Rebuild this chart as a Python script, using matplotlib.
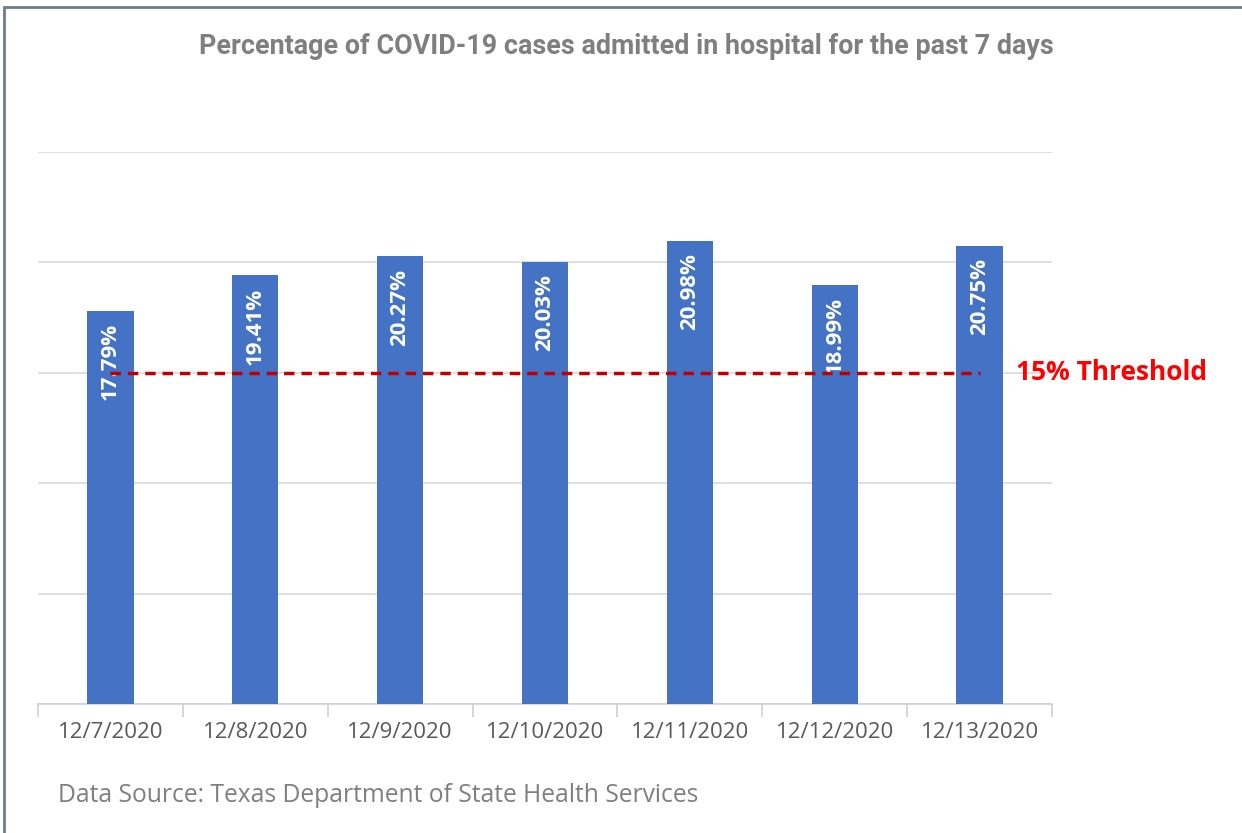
import matplotlib.pyplot as plt
from matplotlib.patches import Rectangle

dates = ["12/7/2020", "12/8/2020", "12/9/2020", "12/10/2020", "12/11/2020", "12/12/2020", "12/13/2020"]
values = [17.79, 19.41, 20.27, 20.03, 20.98, 18.99, 20.75]
threshold = 15
title = "Percentage of COVID-19 cases admitted in hospital for the past 7 days"
source = "Data Source: Texas Department of State Health Services"

W, H = 1242, 833
fig = plt.figure(figsize=(W / 100, H / 100), dpi=100)
fig.patch.set_facecolor("white")

# frame
fig.add_artist(Rectangle((4 / W, -0.01), 1.02, (H - 7) / H + 0.01, transform=fig.transFigure,
                         fill=False, edgecolor="#6f7b8c", linewidth=2))

ax = fig.add_axes([38 / W, (H - 704) / H, (1052 - 38) / W, (704 - 152) / H])
x = list(range(len(dates)))
ax.bar(x, values, width=0.32, color="#4472C4", zorder=3)
ax.set_xlim(-0.5, len(dates) - 0.5)
ax.set_ylim(0, 25)
ax.set_yticks([0, 5, 10, 15, 20, 25])
ax.yaxis.grid(True, color="#d9d9d9", linewidth=1.2, zorder=0)
ax.tick_params(axis="y", left=False, labelleft=False)
for s in ["top", "right", "left"]:
    ax.spines[s].set_visible(False)
ax.spines["bottom"].set_color("#d0d0d0")
ax.spines["bottom"].set_linewidth(1.2)
ax.set_xticks(x)
ax.set_xticklabels(dates, fontsize=16, color="#595959", family="Open Sans")
ax.tick_params(axis="x", length=0, pad=13)
ax.set_xticks([i - 0.5 for i in range(len(dates) + 1)], minor=True)
ax.tick_params(axis="x", which="minor", length=9, color="#d0d0d0", width=1.2)

for xi, v in zip(x, values):
    ax.text(xi, v - 0.55, f"{v:.2f}%", rotation=90, ha="center", va="top",
            color="white", fontsize=16, fontweight="bold", family="Open Sans", zorder=4)

ax.plot([0, len(dates) - 1], [threshold, threshold], linestyle=(0, (3, 2)), color="#C00000",
        linewidth=2.5, zorder=5)
ax.text(len(dates) - 1 + 0.25, threshold, f"{threshold}% Threshold", color="#FF0000",
        fontsize=19, fontweight="bold", family="Open Sans", va="center", ha="left")

fig.text(626 / W, 1 - 47 / H, title, ha="center", va="center", fontsize=19.4, fontweight="bold",
         color="#7f7f7f", family="Roboto")
fig.text(58 / W, 1 - 795 / H, source, ha="left", va="center", fontsize=17.7, color="#7f7f7f",
         family="Open Sans")

fig.savefig("out.png", dpi=100)
